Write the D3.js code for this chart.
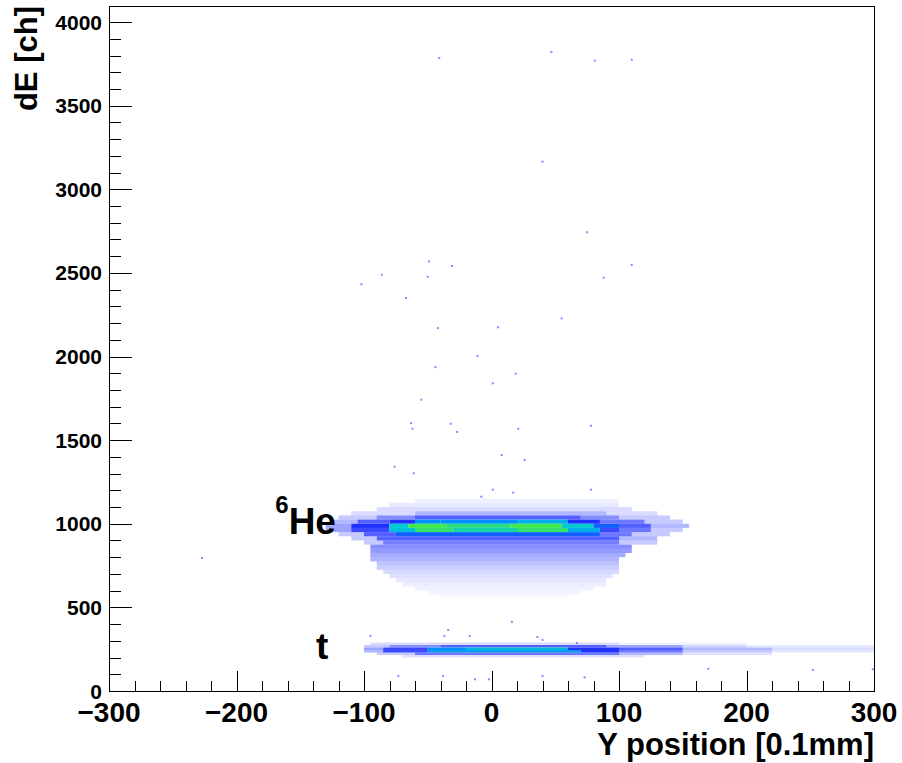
<!DOCTYPE html>
<html>
<head>
<meta charset="utf-8">
<script src="https://cdn.jsdelivr.net/npm/d3@7"></script>
<style>
  body { margin: 0; background: #fff; }
  svg { display: block; }
  text { font-family: "Liberation Sans", Arial, Helvetica, sans-serif; font-weight: bold; fill: #000; }
</style>
</head>
<body>
<svg id="chart" width="902" height="763"></svg>
<script>
// ---- data ----
// density level per band row: [xFrom, xTo, level] (level ~ counts, 0..9)
const heRows = [
  { y0: 1125, y1: 1150, segs: [[-60, 100, 0.4]] },
  { y0: 1100, y1: 1125, segs: [[-80, 100, 0.6]] },
  { y0: 1075, y1: 1100, segs: [[-90, 110, 1]] },
  { y0: 1050, y1: 1075, segs: [[-110, -60, 1], [-60, 90, 2], [90, 130, 1]] },
  { y0: 1025, y1: 1050, segs: [[-120, -90, 1.5], [-90, -60, 3], [-60, 70, 4], [70, 100, 3], [100, 140, 1.5]] },
  { y0: 1000, y1: 1025, segs: [[-125, -105, 2], [-105, -80, 4], [-80, -60, 5], [-60, -40, 6], [-40, 20, 6], [20, 60, 6.5], [60, 85, 5], [85, 120, 3.5], [120, 150, 1.5]] },
  { y0: 975, y1: 1000, segs: [[-130, -110, 2.5], [-110, -80, 5], [-80, -65, 7], [-65, -35, 8], [-35, 15, 7.6], [15, 55, 8], [55, 80, 7], [80, 100, 5.5], [100, 125, 4], [125, 155, 2]] },
  { y0: 950, y1: 975, segs: [[-130, -110, 2.5], [-110, -80, 4.5], [-80, -60, 6.8], [-60, -30, 7.8], [-30, 20, 7.3], [20, 60, 7.8], [60, 85, 6.5], [85, 100, 4.5], [100, 125, 3.5], [125, 150, 1.5]] },
  { y0: 925, y1: 950, segs: [[-120, -100, 1.5], [-100, -75, 4], [-75, 85, 5.5], [85, 110, 3.5], [110, 140, 1.5]] },
  { y0: 900, y1: 925, segs: [[-110, -90, 1.5], [-90, 100, 4], [100, 130, 2]] },
  { y0: 875, y1: 900, segs: [[-100, -85, 1.5], [-85, 100, 3.3], [100, 130, 1.5]] },
  { y0: 850, y1: 875, segs: [[-95, 110, 3]] },
  { y0: 825, y1: 850, segs: [[-95, 110, 2.7]] },
  { y0: 800, y1: 825, segs: [[-95, 105, 2.3]] },
  { y0: 775, y1: 800, segs: [[-95, 100, 2.1]] },
  { y0: 750, y1: 775, segs: [[-90, 100, 1.7]] },
  { y0: 725, y1: 750, segs: [[-90, 100, 1.4]] },
  { y0: 700, y1: 725, segs: [[-85, 100, 1.1]] },
  { y0: 675, y1: 700, segs: [[-80, 95, 0.9]] },
  { y0: 650, y1: 675, segs: [[-75, 90, 0.7]] },
  { y0: 625, y1: 650, segs: [[-70, 90, 0.5]] },
  { y0: 600, y1: 625, segs: [[-60, 80, 0.4]] },
  { y0: 575, y1: 600, segs: [[-50, 70, 0.3]] },
  { y0: 550, y1: 575, segs: [[-40, 60, 0.15]] }
];

const tRows = [
  { y0: 275, y1: 290, segs: [[-95, 100, 1], [100, 200, 0.4]] },
  { y0: 260, y1: 275, segs: [[-100, -80, 1.5], [-80, -40, 3], [-40, 90, 4], [90, 150, 2.5], [150, 200, 1.2], [200, 300, 0.6]] },
  { y0: 245, y1: 260, segs: [[-100, -85, 2.5], [-85, -50, 4.5], [-50, -20, 6], [-20, 60, 6.7], [60, 100, 5], [100, 150, 4], [150, 220, 2], [220, 300, 1]] },
  { y0: 230, y1: 245, segs: [[-100, -85, 2], [-85, -50, 4.5], [-50, 70, 6.2], [70, 100, 5], [100, 150, 3.5], [150, 220, 1.5], [220, 300, 0.7]] },
  { y0: 215, y1: 230, segs: [[-90, -60, 1.5], [-60, 100, 3.5], [100, 150, 2], [150, 220, 0.8]] },
  { y0: 200, y1: 215, segs: [[-70, 120, 0.8]] }
];

// isolated entries [Y position, dE]
const outliers = [
  [-41, 3785], [47, 3821], [81, 3769], [110, 3775], [40, 3165], [75, 2743],
  [-49, 2569], [-31, 2541], [110, 2547], [-86, 2489], [-50, 2477], [88, 2471],
  [-102, 2432], [-67, 2350], [55, 2228], [-42, 2170], [5, 2175], [-11, 2003],
  [-44, 1937], [19, 1897], [1, 1840], [-55, 1742], [-63, 1602], [-32, 1598],
  [-62, 1568], [-27, 1549], [21, 1568], [78, 1586], [8, 1411], [26, 1381],
  [-76, 1341], [-61, 1302], [1, 1204], [17, 1186], [78, 1204], [-8, 1162],
  [-227, 795], [-95, 330], [-34, 365], [-37, 329], [-17, 329], [16, 413],
  [36, 323], [40, 305], [67, 287],
  [-73, 90], [-38, 90], [-13, 70], [-2, 70], [40, 90], [73, 82],
  [170, 133], [252, 126], [299, 130]
];

const xTicks = [-300, -200, -100, 0, 100, 200, 300];
const yTicks = [0, 500, 1000, 1500, 2000, 2500, 3000, 3500, 4000];
const xTitle = "Y position [0.1mm]";
const yTitle = "dE [ch]";
const bandLabels = [
  { sup: "6", text: "He", x: -122, y: 940 },
  { sup: "", text: "t", x: -128, y: 191 }
];

// ---- layout ----
const frame = { left: 109, right: 874, top: 6, bottom: 691 };
const svg = d3.select('#chart');

const x = d3.scaleLinear().domain([-300, 300]).range([frame.left, frame.right]);
const y = d3.scaleLinear().domain([0, 4096]).range([frame.bottom, frame.top]);

const levelColor = d3.scaleLinear()
  .domain([0, 5, 6, 7, 8, 9])
  .range(['#3040ff', '#2030ff', '#0090ff', '#00ccd0', '#40e850', '#a0f000'])
  .clamp(true);
const levelOpacity = d3.scaleLinear()
  .domain([0, 1, 2, 3, 4, 5])
  .range([0, 0.18, 0.36, 0.56, 0.78, 1])
  .clamp(true);

svg.append('defs').append('clipPath').attr('id', 'plotClip')
  .append('rect')
  .attr('x', frame.left).attr('y', frame.top)
  .attr('width', frame.right - frame.left).attr('height', frame.bottom - frame.top);

const plot = svg.append('g').attr('clip-path', 'url(#plotClip)');

const cells = [...heRows, ...tRows].flatMap(r =>
  r.segs.map(s => ({ x0: s[0], x1: s[1], y0: r.y0, y1: r.y1, lvl: s[2] })));

plot.selectAll('rect.cell').data(cells).join('rect')
  .attr('class', 'cell')
  .attr('x', d => x(d.x0))
  .attr('y', d => y(d.y1))
  .attr('width', d => x(d.x1) - x(d.x0))
  .attr('height', d => y(d.y0) - y(d.y1))
  .attr('fill', d => levelColor(d.lvl))
  .attr('fill-opacity', d => levelOpacity(d.lvl));

plot.selectAll('rect.pt').data(outliers).join('rect')
  .attr('class', 'pt')
  .attr('x', d => x(d[0]) - 1)
  .attr('y', d => y(d[1]) - 1)
  .attr('width', 2).attr('height', 2)
  .attr('fill', '#3a3aff')
  .attr('fill-opacity', 0.6);

// ---- axes (ROOT style: ticks inside frame) ----
const axisG = svg.append('g').attr('stroke', '#000').attr('stroke-width', 1).attr('shape-rendering', 'crispEdges');

const xMinor = d3.range(-300, 301, 20);
axisG.selectAll('line.xt').data(xMinor).join('line')
  .attr('x1', d => Math.round(x(d)) + 0.5).attr('x2', d => Math.round(x(d)) + 0.5)
  .attr('y1', frame.bottom)
  .attr('y2', d => frame.bottom - (d % 100 === 0 ? 20 : 10));

const yMinor = d3.range(0, 4001, 100);
axisG.selectAll('line.yt').data(yMinor).join('line')
  .attr('x1', frame.left)
  .attr('x2', d => frame.left + (d % 500 === 0 ? 23 : 12))
  .attr('y1', d => Math.round(y(d)) + 0.5).attr('y2', d => Math.round(y(d)) + 0.5);

svg.append('rect')
  .attr('x', frame.left + 0.5).attr('y', frame.top + 0.5)
  .attr('width', frame.right - frame.left).attr('height', frame.bottom - frame.top)
  .attr('fill', 'none').attr('stroke', '#000').attr('stroke-width', 1)
  .attr('shape-rendering', 'crispEdges');

svg.append('g').selectAll('text').data(xTicks).join('text')
  .attr('x', d => x(d)).attr('y', 722)
  .attr('text-anchor', 'middle')
  .style('font-size', '28px')
  .text(d => d < 0 ? '\u2212' + Math.abs(d) : d);

svg.append('g').selectAll('text').data(yTicks).join('text')
  .attr('x', 102).attr('y', d => y(d) + 7.5)
  .attr('text-anchor', 'end')
  .style('font-size', '21px')
  .text(d => d);

svg.append('text')
  .attr('x', frame.right).attr('y', 755)
  .attr('text-anchor', 'end')
  .style('font-size', '31px')
  .text(xTitle);

svg.append('text')
  .attr('transform', `translate(37,${frame.top}) rotate(-90)`)
  .attr('text-anchor', 'end')
  .style('font-size', '31px')
  .text(yTitle);

// ---- band labels ----
bandLabels.forEach(l => {
  const t = svg.append('text')
    .attr('x', x(l.x)).attr('y', y(l.y))
    .attr('text-anchor', 'end')
    .style('font-size', '37px');
  if (l.sup) {
    t.append('tspan').text(l.sup).style('font-size', '24px').attr('dy', -21);
    t.append('tspan').text(l.text).attr('dy', 21);
  } else {
    t.text(l.text);
  }
});
</script>
</body>
</html>
